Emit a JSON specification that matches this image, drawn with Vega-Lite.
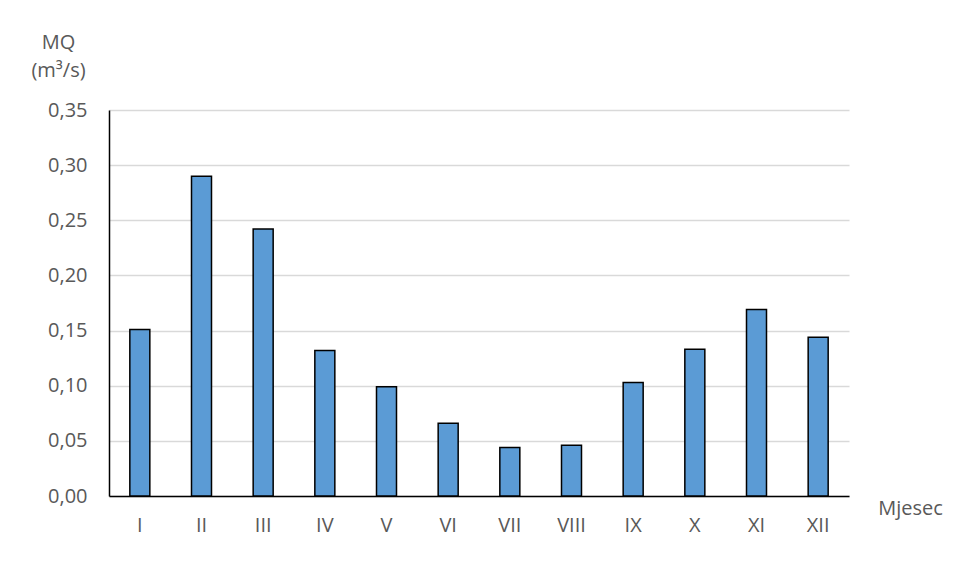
{
  "$schema": "https://vega.github.io/schema/vega-lite/v6.json",
  "autosize": {"type": "none"},
  "width": 740,
  "height": 386,
  "padding": {"left": 109, "top": 110, "right": 115, "bottom": 89},
  "background": "white",
  "data": {
    "values": [
      {"mjesec": "I", "mq": 0.151},
      {"mjesec": "II", "mq": 0.290},
      {"mjesec": "III", "mq": 0.242},
      {"mjesec": "IV", "mq": 0.132},
      {"mjesec": "V", "mq": 0.099},
      {"mjesec": "VI", "mq": 0.066},
      {"mjesec": "VII", "mq": 0.044},
      {"mjesec": "VIII", "mq": 0.046},
      {"mjesec": "IX", "mq": 0.103},
      {"mjesec": "X", "mq": 0.133},
      {"mjesec": "XI", "mq": 0.169},
      {"mjesec": "XII", "mq": 0.144}
    ]
  },
  "mark": {"type": "bar", "fill": "#5B9BD5", "stroke": "#000000", "strokeWidth": 1.5, "size": 20},
  "encoding": {
    "x": {
      "field": "mjesec",
      "type": "nominal",
      "sort": null,
      "scale": {"paddingInner": 0.68, "paddingOuter": 0.34},
      "axis": {
        "title": "Mjesec",
        "titleX": 801,
        "titleY": 12,
        "titleAlign": "center",
        "titleBaseline": "middle",
        "titleFont": "Open Sans",
        "titleFontSize": 20,
        "titleFontWeight": "normal",
        "titleColor": "#595959",
        "labelAngle": 0,
        "labelFont": "Open Sans",
        "labelFontSize": 20,
        "labelColor": "#595959",
        "labelPadding": 19,
        "ticks": false,
        "domainColor": "#000000",
        "domainWidth": 1.5
      }
    },
    "y": {
      "field": "mq",
      "type": "quantitative",
      "scale": {"domain": [0, 0.35], "nice": false},
      "axis": {
        "title": ["MQ", "(m³/s)"],
        "titleAngle": 0,
        "titleX": -51,
        "titleY": -68,
        "titleAlign": "center",
        "titleBaseline": "middle",
        "titleLineHeight": 28,
        "titleFont": "Open Sans",
        "titleFontSize": 20,
        "titleFontWeight": "normal",
        "titleColor": "#595959",
        "values": [0, 0.05, 0.1, 0.15, 0.2, 0.25, 0.3, 0.35],
        "labelExpr": "replace(format(datum.value, '.2f'), '.', ',')",
        "labelFont": "Open Sans",
        "labelFontSize": 20,
        "labelColor": "#595959",
        "labelPadding": 22,
        "ticks": false,
        "domainColor": "#000000",
        "domainWidth": 1.5,
        "gridColor": "#d9d9d9",
        "gridWidth": 1.5
      }
    }
  },
  "config": {"view": {"stroke": null}}
}
